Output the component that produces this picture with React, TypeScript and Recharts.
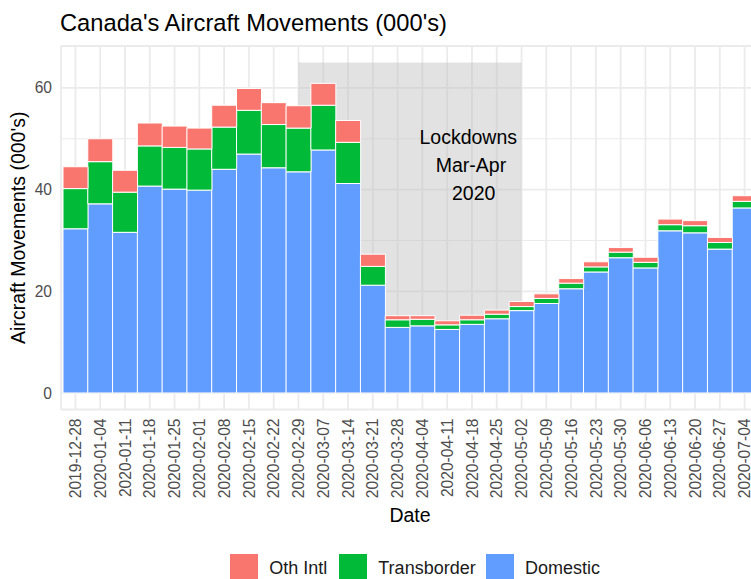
import React from 'react';
import { BarChart, Bar, XAxis, YAxis, CartesianGrid, ReferenceArea, ReferenceDot, Legend } from 'recharts';

const DATES = [
  '2019-12-28', '2020-01-04', '2020-01-11', '2020-01-18', '2020-01-25', '2020-02-01', '2020-02-08',
  '2020-02-15', '2020-02-22', '2020-02-29', '2020-03-07', '2020-03-14', '2020-03-21', '2020-03-28',
  '2020-04-04', '2020-04-11', '2020-04-18', '2020-04-25', '2020-05-02', '2020-05-09', '2020-05-16',
  '2020-05-23', '2020-05-30', '2020-06-06', '2020-06-13', '2020-06-20', '2020-06-27', '2020-07-04',
];
const DOMESTIC = [32.3, 37.2, 31.6, 40.7, 40.1, 39.9, 44.0, 47.0, 44.3, 43.5, 47.8, 41.2, 21.2, 12.9, 13.2, 12.5, 13.5, 14.6, 16.2, 17.6, 20.5, 23.8, 26.6, 24.6, 31.9, 31.5, 28.3, 36.4];
const TRANSBORDER = [7.9, 8.3, 7.9, 7.9, 8.2, 8.1, 8.3, 8.6, 8.5, 8.6, 8.8, 8.1, 3.7, 1.5, 1.3, 0.9, 0.9, 0.9, 0.8, 1.0, 1.1, 1.0, 1.1, 1.1, 1.2, 1.4, 1.3, 1.3];
const OTH_INTL = [4.3, 4.5, 4.3, 4.5, 4.2, 4.1, 4.3, 4.3, 4.3, 4.4, 4.3, 4.3, 2.4, 0.8, 0.7, 0.8, 0.9, 0.8, 1.0, 0.9, 0.9, 1.0, 0.9, 1.0, 1.1, 1.0, 1.0, 1.1];

const Y_TICKS = [0, 20, 40, 60];
const Y_MINOR = [10, 30, 50];
const Y_DOMAIN = [-3.25, 68.25];

// lockdown shading (category index range) and annotation
const LOCKDOWN_START = 9; // 2020-02-29
const LOCKDOWN_END = 18; // 2020-05-02
const LOCKDOWN_TOP = 65;
const NOTE_X = 15.85;
const NOTE_Y = 45;
const NOTE_LINES = ['Lockdowns', ' Mar-Apr', '  2020'];

const SERIES = [
  { key: 'othIntl', name: 'Oth Intl', color: '#F8766D' },
  { key: 'transborder', name: 'Transborder', color: '#00BA38' },
  { key: 'domestic', name: 'Domestic', color: '#619CFF' },
];
const LEGEND_X = [229.3, 338.3, 485];

const data = DATES.map((d, i) => ({
  date: d,
  idx: i,
  domestic: DOMESTIC[i],
  transborder: TRANSBORDER[i],
  othIntl: OTH_INTL[i],
}));

const FONT = '"Liberation Sans", Arial, Helvetica, sans-serif';

const XTick = (props: any) => {
  const { x, y, payload } = props;
  return (
    <text
      x={x}
      y={y}
      transform={`rotate(-90, ${x}, ${y})`}
      textAnchor="end"
      dy="0.36em"
      fill="#4D4D4D"
      fontSize={15.6}
    >
      {payload.value}
    </text>
  );
};

const LegendContent = () => (
  <div style={{ position: 'relative', height: 30, width: 759 }}>
    {[...SERIES].map((s, i) => (
      <div key={s.key} style={{ position: 'absolute', left: LEGEND_X[i], top: 0, display: 'flex', alignItems: 'center', height: 30 }}>
        <div style={{ width: 30, height: 30, background: s.color, border: '1px solid #fff', boxSizing: 'border-box' }} />
        <span style={{ marginLeft: 10, fontSize: 18, lineHeight: '30px', color: '#1A1A1A', whiteSpace: 'nowrap' }}>{s.name}</span>
      </div>
    ))}
  </div>
);

export default function App() {
  return (
    <div style={{ position: 'absolute', left: 0, top: 0, width: 751, height: 579, overflow: 'hidden', background: '#fff', fontFamily: FONT }}>
      <div style={{ position: 'absolute', left: 60, top: 12, fontSize: 23.7, lineHeight: '23.7px', color: '#000', whiteSpace: 'nowrap' }}>
        Canada's Aircraft Movements (000's)
      </div>
      <BarChart
        width={759}
        height={579}
        data={data}
        margin={{ top: 46, right: 0, left: 0, bottom: 19.5 }}
        barCategoryGap={0}
        barGap={0}
      >
        <CartesianGrid stroke="#EBEBEB" strokeWidth={1.8} />
        <CartesianGrid stroke="#EBEBEB" strokeWidth={1} vertical={false} horizontalValues={Y_MINOR} />
        <XAxis
          dataKey="date"
          interval={0}
          tick={<XTick />}
          tickLine={false}
          axisLine={false}
          tickSize={0}
          tickMargin={9}
          height={120}
          padding={{ left: 2, right: 2 }}
          label={(p: any) => {
            const vb = p.viewBox;
            return (
              <text x={vb.x + vb.width / 2} y={vb.y + 112} textAnchor="middle" fontSize={19.5} fill="#000">
                Date
              </text>
            );
          }}
        />
        <XAxis
          xAxisId="num"
          type="number"
          dataKey="idx"
          domain={[-0.5, DATES.length - 0.5]}
          allowDataOverflow
          hide
          padding={{ left: 2, right: 2 }}
        />
        <YAxis
          width={61}
          domain={Y_DOMAIN}
          allowDataOverflow
          ticks={Y_TICKS}
          tickLine={false}
          axisLine={false}
          tickSize={0}
          tickMargin={9}
          tick={{ fill: '#4D4D4D', fontSize: 15.6 }}
          label={(p: any) => {
            const vb = p.viewBox;
            const cx = vb.x + 25;
            const cy = vb.y + vb.height / 2;
            return (
              <text x={cx} y={cy} transform={`rotate(-90, ${cx}, ${cy})`} textAnchor="middle" fontSize={19.5} fill="#000">
                Aircraft Movements (000's)
              </text>
            );
          }}
        />
        <ReferenceArea
          xAxisId="num"
          x1={LOCKDOWN_START}
          x2={LOCKDOWN_END}
          y1={0}
          y2={LOCKDOWN_TOP}
          fill="#BEBEBE"
          fillOpacity={0.45}
          stroke="none"
        />
        <Bar dataKey="domestic" name="Domestic" stackId="a" fill="#619CFF" stroke="#ffffff" strokeWidth={1} isAnimationActive={false} />
        <Bar dataKey="transborder" name="Transborder" stackId="a" fill="#00BA38" stroke="#ffffff" strokeWidth={1} isAnimationActive={false} />
        <Bar dataKey="othIntl" name="Oth Intl" stackId="a" fill="#F8766D" stroke="#ffffff" strokeWidth={1} isAnimationActive={false} />
        <ReferenceDot
          xAxisId="num"
          x={NOTE_X}
          y={NOTE_Y}
          r={0}
          fill="none"
          stroke="none"
          label={(p: any) => {
            const vb = p.viewBox;
            const cx = vb.x + (vb.width || 0) / 2;
            const cy = vb.y + (vb.height || 0) / 2;
            return (
              <g>
                {NOTE_LINES.map((t, i) => (
                  <text
                    key={i}
                    x={cx}
                    y={cy + 7.8 + (i - 1) * 28}
                    textAnchor="middle"
                    fontSize={19.5}
                    fill="#000"
                    style={{ whiteSpace: 'pre' }}
                  >
                    {t}
                  </text>
                ))}
              </g>
            );
          }}
        />
        <Legend
          verticalAlign="bottom"
          content={() => <LegendContent />}
          wrapperStyle={{ left: 0, top: 553, bottom: 'auto', width: 759, height: 30 }}
        />
      </BarChart>
    </div>
  );
}
